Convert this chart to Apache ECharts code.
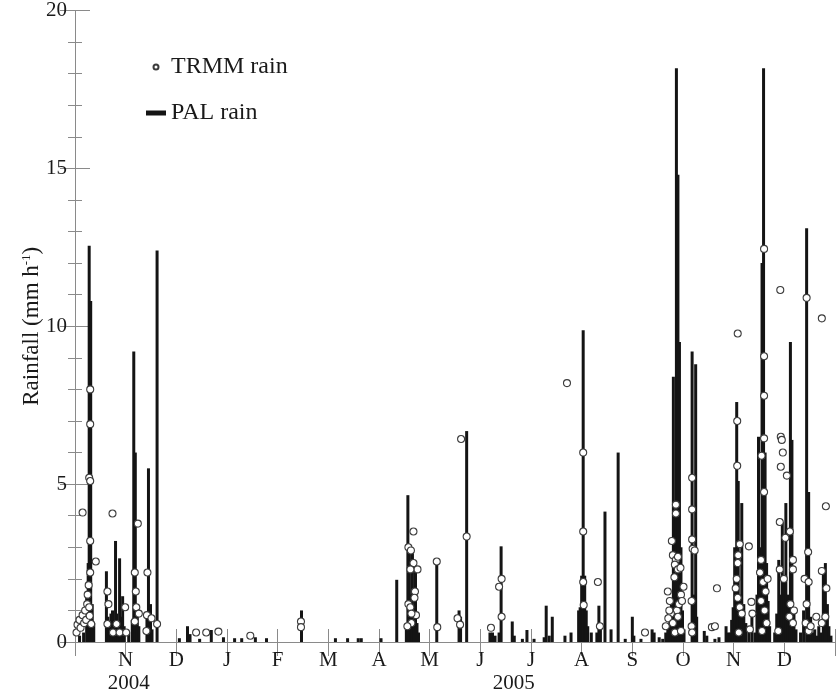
<!DOCTYPE html>
<html>
<head>
<meta charset="utf-8">
<script src="https://cdn.jsdelivr.net/npm/echarts@6/dist/echarts.min.js"></script>
<style>html,body{margin:0;padding:0;background:#fff;}#c{width:839px;height:694px;}</style>
</head>
<body>
<div id="c"></div>
<script>
// x values are months counted from 1 Oct 2004 (tick 1 = Nov 2004 ... tick 14 = Dec 2005)
var monthLabels = ['', 'N', 'D', 'J', 'F', 'M', 'A', 'M', 'J', 'J', 'A', 'S', 'O', 'N', 'D', ''];
var yearLabels = ['2004', '2005'];
var yearMonth = [1.06, 8.66];

// PAL rain gauge (bars)
var palMonth = [0.09,0.17,0.23,0.26,0.28,0.29,0.31,0.34,0.37,
  0.62,0.65,0.68,0.71,0.74,0.77,0.80,0.82,0.85,0.88,0.91,0.94,0.97,1.06,1.13,1.16,1.19,1.23,1.26,
  1.42,1.45,1.49,1.52,1.62,
  2.06,2.22,2.27,2.46,2.69,2.93,3.15,3.29,3.56,3.78,4.47,5.14,5.38,5.59,5.65,6.04,6.35,
  6.54,6.57,6.60,6.63,6.66,6.69,6.72,6.75,6.78,7.14,7.58,7.61,7.73,
  8.19,8.24,8.29,8.37,8.41,8.63,8.67,8.83,8.92,9.06,9.26,9.30,9.36,9.42,9.67,9.79,
  9.94,9.97,10.00,10.03,10.06,10.09,10.12,10.19,10.30,10.34,10.37,10.46,10.58,10.72,
  10.86,11.00,11.03,11.17,11.39,11.43,11.53,11.60,
  11.66,11.70,11.74,11.77,11.81,11.84,11.87,11.90,11.93,11.96,11.99,12.02,
  12.18,12.21,12.25,12.27,12.42,12.47,12.63,12.71,12.85,12.89,
  12.93,12.96,12.99,13.02,13.06,13.09,13.13,13.16,13.20,13.24,13.30,13.36,13.42,
  13.46,13.49,13.52,13.56,13.59,13.62,13.65,13.68,13.71,
  13.81,13.85,13.89,13.93,13.96,13.99,14.03,14.07,14.12,14.15,14.19,14.23,
  14.32,14.38,14.44,14.48,14.52,14.56,14.60,14.64,14.68,14.72,14.77,14.81,14.85,14.88,14.92];
var palRain = [0.2,0.3,1.5,2.5,12.55,4.0,10.8,1.2,0.6,
  2.24,0.8,0.5,0.9,1.0,0.7,3.2,0.9,0.6,2.65,0.8,1.45,0.5,0.3,0.7,9.2,6.0,1.2,0.5,
  0.9,5.5,1.2,0.4,12.4,
  0.12,0.5,0.25,0.1,0.38,0.15,0.12,0.12,0.15,0.12,1.0,0.12,0.12,0.12,0.12,0.12,1.97,
  0.4,4.65,3.0,1.5,2.9,1.0,2.3,0.6,0.3,2.55,1.0,0.8,6.68,
  0.3,0.3,0.2,0.3,3.03,0.65,0.2,0.1,0.38,0.1,0.15,1.15,0.2,0.8,0.2,0.3,
  1.0,1.1,2.1,9.87,2.1,1.0,0.5,0.3,0.3,1.15,0.4,4.13,0.4,6.0,
  0.1,0.8,0.2,0.1,0.4,0.3,0.15,0.1,
  0.3,0.5,0.8,1.2,8.4,4.0,18.17,14.8,9.5,3.0,1.0,0.4,
  9.2,1.5,8.8,0.8,0.35,0.2,0.1,0.15,0.5,0.3,
  0.3,0.7,1.1,3.0,7.6,5.1,1.5,4.4,1.2,0.6,0.4,0.8,0.3,
  1.5,6.5,3.0,12.0,18.17,6.0,2.5,1.3,0.5,
  0.3,0.9,2.6,1.5,3.8,2.0,4.4,1.5,9.5,6.4,1.0,0.4,
  0.3,1.0,13.1,4.75,0.8,0.3,0.4,0.2,0.5,0.3,2.3,2.5,1.2,0.5,0.2];

// TRMM satellite rain (open circles)
var trmmMonth = [0.03,0.05,0.09,0.11,0.15,0.18,0.15,0.20,0.22,0.24,0.25,0.30,0.30,0.28,0.30,0.30,0.30,0.27,0.28,0.29,0.32,0.41,
  0.74,0.64,0.66,0.64,0.75,0.82,0.88,0.99,1.01,
  1.24,1.18,1.20,1.21,1.26,1.18,1.43,1.42,1.51,1.41,1.62,
  2.39,2.59,2.83,3.46,4.46,4.46,
  6.68,6.58,6.63,6.68,6.76,6.62,6.71,6.70,6.58,6.62,6.73,6.64,6.56,6.64,
  7.14,7.15,7.55,7.60,7.62,7.73,8.21,8.42,8.37,8.42,
  9.71,10.03,10.03,10.03,10.04,10.32,10.36,11.25,
  11.86,11.86,11.78,11.80,11.86,11.90,11.84,11.90,11.95,11.83,11.70,11.74,11.96,12.01,11.88,11.92,11.76,11.71,11.66,11.80,11.84,11.96,11.90,11.98,11.73,
  12.18,12.18,12.18,12.19,12.23,12.17,12.17,12.18,
  12.57,12.63,12.67,13.08,13.07,13.07,13.12,13.09,13.08,13.06,13.04,13.08,13.12,13.16,13.10,
  13.30,13.35,13.37,13.32,
  13.60,13.60,13.60,13.60,13.55,13.60,13.54,13.52,13.58,13.63,13.67,13.54,13.61,13.56,13.65,
  13.92,13.93,13.95,13.97,13.93,14.05,13.91,14.11,14.02,14.17,14.17,13.91,13.99,14.12,14.19,14.10,13.88,14.17,
  14.44,14.47,14.40,14.48,14.44,14.42,14.48,
  14.74,14.82,14.74,14.83,14.81,14.63,14.74,14.52];
var trmmRain = [0.3,0.55,0.7,0.45,0.85,0.6,4.1,1.0,0.7,1.2,1.5,8.0,6.9,5.2,5.1,3.2,2.2,1.8,1.1,0.83,0.57,2.55,
  4.07,1.6,1.2,0.57,0.3,0.57,0.3,1.1,0.3,
  3.75,2.2,1.6,1.1,0.9,0.65,2.2,0.85,0.75,0.35,0.57,
  0.3,0.3,0.33,0.2,0.65,0.47,
  3.5,3.0,2.9,2.5,2.3,2.3,1.6,1.4,1.2,1.1,0.85,0.6,0.5,0.9,
  2.55,0.47,0.75,0.55,6.43,3.34,0.45,2.0,1.75,0.8,
  8.2,6.0,3.5,1.9,1.17,1.9,0.5,0.3,
  4.35,4.07,3.2,2.75,2.6,2.7,2.45,2.3,2.35,2.05,1.6,1.3,1.5,1.75,1.0,1.2,0.9,0.75,0.5,0.6,0.3,0.35,0.8,1.3,1.0,
  5.2,4.2,3.25,2.95,2.9,1.3,0.5,0.3,
  0.47,0.5,1.7,9.77,7.0,5.58,3.1,2.75,2.5,2.0,1.7,1.4,1.1,0.9,0.3,
  3.03,1.27,0.9,0.4,
  12.45,9.05,7.8,6.45,5.9,4.75,2.6,2.2,1.9,1.6,2.0,1.3,1.0,0.35,0.6,
  11.15,6.5,6.4,6.0,5.55,5.27,3.8,3.5,3.3,2.6,2.3,2.3,2.0,1.2,1.0,0.8,0.35,0.6,
  10.9,2.85,2.0,1.9,1.2,0.6,0.35,
  10.25,4.3,2.25,1.7,0.8,0.8,0.6,0.5];

var yTicks = [0, 5, 10, 15, 20];

function zip(a, b) { var r = []; for (var i = 0; i < a.length; i++) r.push([a[i], b[i]]); return r; }

var FONT = 'Liberation Serif';
var AX = '#8a8a8a';
var TXT = '#1a1a1a';

var chart = echarts.init(document.getElementById('c'), null, {renderer: 'canvas'});
chart.setOption({
  animation: false,
  backgroundColor: '#fff',
  grid: {left: 75, right: 4, top: 7, bottom: 51, containLabel: false},
  legend: {
    orient: 'vertical', left: 141, top: 50, itemGap: 22,
    itemWidth: 20, itemHeight: 5,
    textStyle: {fontFamily: FONT, fontSize: 24, color: TXT},
    data: [{name: 'TRMM rain', icon: 'circle'}, {name: 'PAL rain', icon: 'rect'}]
  },
  xAxis: [
    {
      type: 'value', min: 0, max: 15, interval: 1, position: 'bottom',
      axisLine: {show: true, lineStyle: {color: AX, width: 1}},
      axisTick: {show: true, inside: true, length: 13, lineStyle: {color: AX}},
      axisLabel: {
        fontFamily: FONT, fontSize: 21, color: TXT, margin: 8,
        showMinLabel: true, showMaxLabel: true,
        formatter: function (v) { return monthLabels[Math.round(v)] || ''; }
      },
      splitLine: {show: false}
    },
    {
      type: 'value', min: 0, max: 15, interval: 1, position: 'top',
      axisLine: {show: true, lineStyle: {color: AX, width: 1}},
      axisTick: {show: true, inside: true, length: 14, lineStyle: {color: AX}},
      axisLabel: {show: false},
      splitLine: {show: false}
    },
    {
      type: 'value', min: 0, max: 15, position: 'bottom',
      axisLine: {show: false}, axisTick: {show: false}, splitLine: {show: false},
      axisLabel: {
        fontFamily: FONT, fontSize: 21, color: TXT, margin: 31,
        customValues: yearMonth,
        formatter: function (v) { var i = yearMonth.indexOf(v); return i >= 0 ? yearLabels[i] : ''; }
      }
    }
  ],
  yAxis: [
    {
      type: 'value', min: yTicks[0], max: yTicks[yTicks.length - 1], interval: 5, position: 'left',
      name: 'Rainfall (mm h{sup|-1})',
      nameLocation: 'middle', nameRotate: 90, nameGap: 32, nameMoveOverlap: false,
      nameTextStyle: {
        fontFamily: FONT, fontSize: 23, color: TXT,
        rich: {sup: {fontFamily: FONT, fontSize: 13, color: TXT, verticalAlign: 'top', lineHeight: 14}}
      },
      axisLine: {show: true, lineStyle: {color: AX, width: 1}},
      axisTick: {show: true, inside: true, length: 15, lineStyle: {color: AX}},
      minorTick: {show: true, splitNumber: 5, length: 7, lineStyle: {color: AX}},
      axisLabel: {fontFamily: FONT, fontSize: 21, color: TXT, margin: 8},
      splitLine: {show: false}, minorSplitLine: {show: false}
    },
    {
      type: 'value', min: 0, max: 20, interval: 5, position: 'right',
      axisLine: {show: true, lineStyle: {color: AX, width: 1}},
      axisTick: {show: true, inside: true, length: 15, lineStyle: {color: AX}},
      minorTick: {show: true, splitNumber: 5, length: 7, lineStyle: {color: AX}},
      axisLabel: {show: false},
      splitLine: {show: false}
    }
  ],
  series: [
    {
      name: 'PAL rain', type: 'bar', xAxisIndex: 0, yAxisIndex: 0,
      barWidth: 3, barGap: '-100%',
      itemStyle: {color: '#141414'},
      data: zip(palMonth, palRain)
    },
    {
      name: 'TRMM rain', type: 'scatter', xAxisIndex: 0, yAxisIndex: 0,
      symbol: 'circle', symbolSize: 7,
      itemStyle: {color: '#ffffff', borderColor: '#3c3c3c', borderWidth: 1.1, opacity: 1},
      data: zip(trmmMonth, trmmRain)
    }
  ]
});
</script>
</body>
</html>
